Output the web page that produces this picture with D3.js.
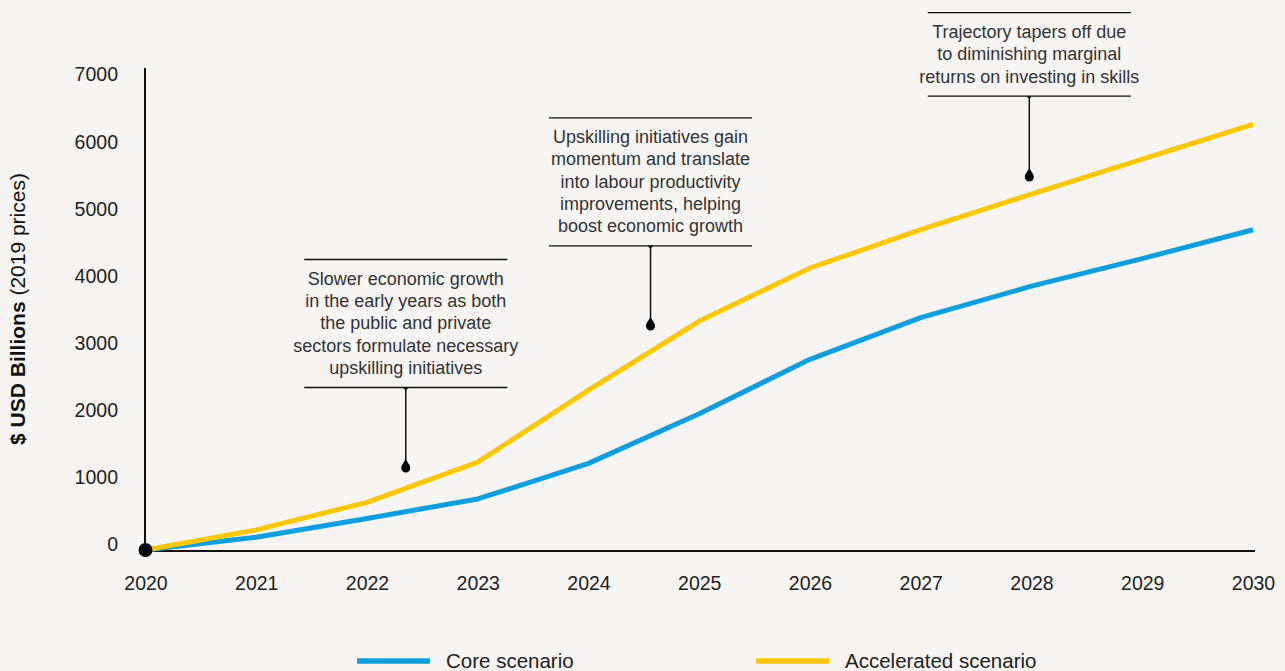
<!DOCTYPE html>
<html><head><meta charset="utf-8">
<script src="https://cdn.jsdelivr.net/npm/d3@7"></script>
<style>
html,body{margin:0;padding:0;background:#f6f5f3;}
svg{display:block;font-family:"Liberation Sans",Arial,Helvetica,sans-serif;}
</style></head>
<body><svg id="c" width="1285" height="671"></svg>
<script>
const years = [2020,2021,2022,2023,2024,2025,2026,2027,2028,2029,2030];
const coreValues = [0,190,470,760,1290,2030,2840,3460,3930,4340,4770];
const acceleratedValues = [0,300,710,1310,2380,3410,4200,4770,5300,5820,6340];
const yTicks = [0,1000,2000,3000,4000,5000,6000,7000];
const seriesNames = ["Core scenario","Accelerated scenario"];
const seriesColors = ["#0f9fdf","#fdc800"];
const annotationYears = [2022.35, 2024.56, 2027.98];
const annotationValues = [1220, 3335, 5555];
const annotationBoxBottoms = [2420, 4530, 6760];
const annotationTexts = [
  ["Slower economic growth","in the early years as both","the public and private","sectors formulate necessary","upskilling initiatives"],
  ["Upskilling initiatives gain","momentum and translate","into labour productivity","improvements, helping","boost economic growth"],
  ["Trajectory tapers off due","to diminishing marginal","returns on investing in skills"]
];

const svg = d3.select("#c");
const x = d3.scaleLinear().domain([2020,2030]).range([145.5,1253]);
const y = d3.scaleLinear().domain([0,7000]).range([550,80]);

// axes
const yAxis = svg.append("g").attr("transform","translate(145,0)")
  .call(d3.axisLeft(y).tickValues(yTicks).tickSize(0).tickPadding(27).tickFormat(d3.format("d")));
yAxis.select(".domain").remove();
yAxis.selectAll("text").attr("font-size",19.5).attr("fill","#222").attr("dy","0.05em");
svg.append("line").attr("x1",145).attr("x2",145).attr("y1",y(7000)-12).attr("y2",y(0)+1)
  .attr("stroke","#111").attr("stroke-width",2);

const xAxis = svg.append("g").attr("transform",`translate(0,${y(0)})`)
  .call(d3.axisBottom(x).tickValues(years).tickSize(0).tickPadding(26).tickFormat(d3.format("d")));
xAxis.select(".domain").remove();
xAxis.selectAll("text").attr("font-size",19.5).attr("fill","#222");
svg.append("line").attr("x1",145).attr("x2",1255).attr("y1",y(0)+1).attr("y2",y(0)+1)
  .attr("stroke","#111").attr("stroke-width",2);

// y title
const yt = svg.append("text").attr("transform","translate(25,309) rotate(-90)")
  .attr("text-anchor","middle").attr("font-size",21).attr("fill","#111");
yt.append("tspan").attr("font-weight","bold").text("$ USD Billions ");
yt.append("tspan").text("(2019 prices)");

// lines
const line = d3.line().x((d,i)=>x(years[i])).y(d=>y(d));
[coreValues, acceleratedValues].forEach((vals,k)=>{
  svg.append("path").datum(vals).attr("d",line).attr("fill","none")
    .attr("stroke",seriesColors[k]).attr("stroke-width",5).attr("stroke-linejoin","round");
});
svg.append("circle").attr("cx",x(2020)).attr("cy",y(0)).attr("r",7).attr("fill","#000");

// annotations
const boxW = 203, lh = 22.3;
annotationTexts.forEach((lines,i)=>{
  const cx = x(annotationYears[i]);
  const bottom = y(annotationBoxBottoms[i]);
  const top = bottom - (lines.length*lh + 16.5);
  const g = svg.append("g");
  g.append("line").attr("x1",cx-boxW/2).attr("x2",cx+boxW/2).attr("y1",top).attr("y2",top).attr("stroke","#111").attr("stroke-width",1.3);
  g.append("line").attr("x1",cx-boxW/2).attr("x2",cx+boxW/2).attr("y1",bottom).attr("y2",bottom).attr("stroke","#111").attr("stroke-width",1.3);
  lines.forEach((t,j)=>{
    g.append("text").attr("x",cx).attr("y",top+19+j*lh).attr("dy","0.35em")
      .attr("text-anchor","middle").attr("font-size",18).attr("fill","#333").text(t);
  });
  const dy = y(annotationValues[i]);
  g.append("line").attr("x1",cx).attr("x2",cx).attr("y1",bottom).attr("y2",dy-8)
    .attr("stroke","#111").attr("stroke-width",1.5);
  g.append("path").attr("d",`M${cx-3},${bottom} L${cx+3},${bottom} L${cx},${bottom+3}Z`).attr("fill","#111");
  g.append("path").attr("transform",`translate(${cx},${dy})`)
    .attr("d","M0,-10 C0.8,-6 4.5,-3.5 4.5,0 A4.5,4.5 0 1,1 -4.5,0 C-4.5,-3.5 -0.8,-6 0,-10Z").attr("fill","#000");
});

// legend
const legendX = [357, 756];
seriesNames.forEach((n,k)=>{
  svg.append("line").attr("x1",legendX[k]).attr("x2",legendX[k]+73).attr("y1",661).attr("y2",661)
    .attr("stroke",seriesColors[k]).attr("stroke-width",5.5);
  svg.append("text").attr("x",legendX[k]+89).attr("y",661).attr("dy","0.35em")
    .attr("font-size",20.5).attr("fill","#222").text(n);
});
</script></body></html>
